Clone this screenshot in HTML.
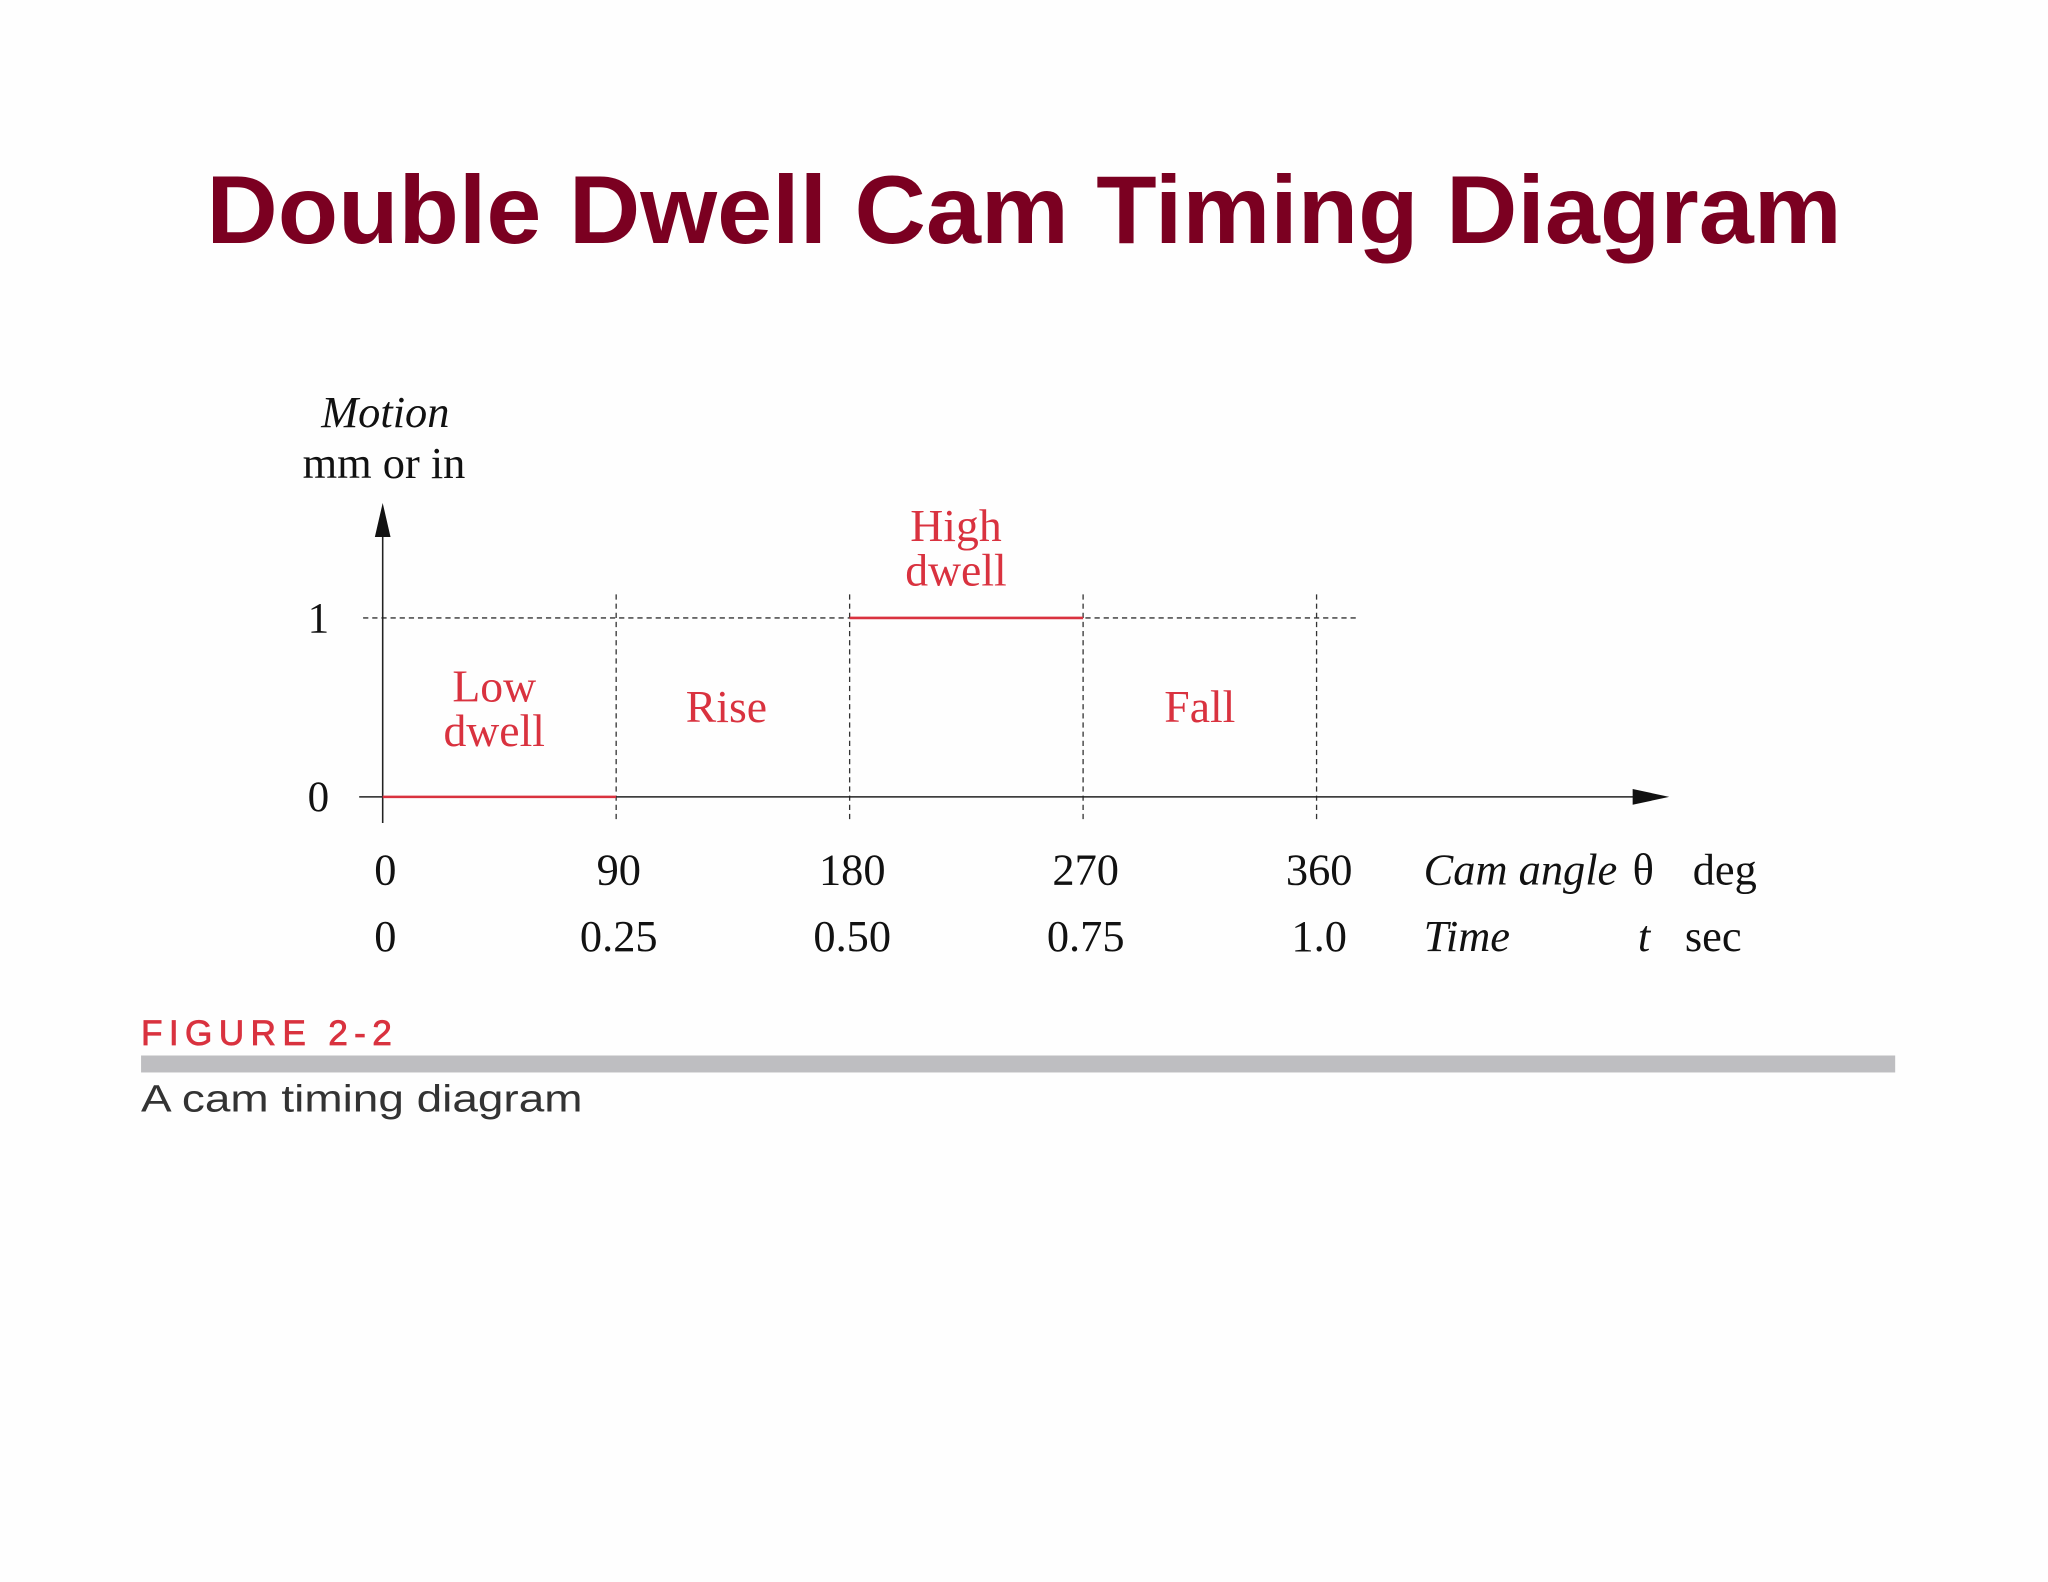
<!DOCTYPE html>
<html><head><meta charset="utf-8"><style>
html,body{margin:0;padding:0;background:#fefefe;}
svg{display:block;}
.serif{font-family:"Liberation Serif",serif;}
</style></head><body>
<svg width="2048" height="1582" viewBox="0 0 1568 1211" xmlns="http://www.w3.org/2000/svg">
<rect width="1568" height="1211" fill="#fefefe"/>
<text x="784" y="186" text-anchor="middle" textLength="1252" lengthAdjust="spacingAndGlyphs" font-family="Liberation Sans, sans-serif" font-weight="bold" font-size="74" fill="#7b0021">Double Dwell Cam Timing Diagram</text>
<g id="chart" class="serif"></g>
<text x="108" y="800" textLength="192" lengthAdjust="spacing" font-family="Liberation Sans, sans-serif" font-size="27" fill="#d9323f" stroke="#d9323f" stroke-width="0.6">FIGURE 2-2</text>
<rect x="108" y="808" width="1343" height="13" fill="#bebec1"/>
<text x="108" y="851" textLength="338" lengthAdjust="spacingAndGlyphs" font-family="Liberation Sans, sans-serif" font-size="29" fill="#333">A cam timing diagram</text>
</svg>
<script>
const angleTicks=[0,90,180,270,360];
const timeTicks=["0","0.25","0.50","0.75","1.0"];
const angleLabels=["0","90","180","270","360"];
const motionTicks=[0,1];
const segStart=[0,180];
const segEnd=[90,270];
const segValue=[0,1];
const regionNames=[["Low","dwell"],["Rise"],["High","dwell"],["Fall"]];
const regionX=[43,132.5,221,315];
const regionY=[0.49,0.5,1.385,0.5];

const NS="http://www.w3.org/2000/svg";
const g=document.getElementById('chart');
const X=a=>293+a*(1008-293)/360;
const Y=v=>610-v*(610-473);
function el(tag,attrs,txt){const e=document.createElementNS(NS,tag);for(const k in attrs)e.setAttribute(k,attrs[k]);if(txt!==undefined)e.textContent=txt;g.appendChild(e);return e;}

let e=el('line',{x1:278,x2:1040,y1:Y(1),y2:Y(1),stroke:'#333','stroke-width':1,'stroke-dasharray':'4 3'});


angleTicks.slice(1).forEach(a=>{
  const l=el('line',{x1:X(a),x2:X(a),y1:455,y2:628,stroke:'#333','stroke-width':1,'stroke-dasharray':'4 3'});
  
  
});
e=el('line',{x1:275,x2:1255,y1:Y(0),y2:Y(0),stroke:'#222','stroke-width':1.2});


e=el('polygon',{points:`1250,604 1278,610 1250,616`,fill:'#111'});


e=el('line',{x1:X(0),x2:X(0),y1:630,y2:405,stroke:'#222','stroke-width':1.2});


e=el('polygon',{points:`287,411 293,385 299,411`,fill:'#111'});


segStart.forEach((s,i)=>{
  const l=el('line',{x1:X(s),x2:X(segEnd[i]),y1:Y(segValue[i]),y2:Y(segValue[i]),stroke:'#d9323f','stroke-width':2});
  
  
});
motionTicks.forEach(v=>{
  const t=el('text',{x:252,y:Y(v)+11,'text-anchor':'end','font-size':33,fill:'#111'},String(v));
  
  
});
angleTicks.forEach((a,i)=>{
  const t=el('text',{x:X(a)+2,y:677,'text-anchor':'middle','font-size':34,fill:'#111'},angleLabels[i]);
  
  
  const t2=el('text',{x:X(a)+2,y:728,'text-anchor':'middle','font-size':34,fill:'#111'},timeTicks[i]);
  
  
});
regionNames.forEach((lines,i)=>{
  const cy=Y(regionY[i]);
  const n=lines.length;
  lines.forEach((s,j)=>{
    const t=el('text',{x:X(regionX[i]),y:cy+11+(j-(n-1)/2)*34,'text-anchor':'middle','font-size':35,fill:'#d9323f'},s);
    
    
  });
});
const at=[
 ['y-axis-title',295,327,'Motion',true,'middle'],
 ['y-axis-units',294,366,'mm or in',false,'middle'],
 ['x-axis-title-angle',1090,677,'Cam angle',true,'start'],
 ['theta-symbol',1250,677,'θ',false,'start'],
 ['angle-units',1296,677,'deg',false,'start'],
 ['x-axis-title-time',1090,728,'Time',true,'start'],
 ['time-symbol',1254,728,'t',true,'start'],
 ['time-units',1290,728,'sec',false,'start']
];
at.forEach(a=>{
  const t=el('text',{x:a[1],y:a[2],'text-anchor':a[5],'font-size':34,fill:'#111','font-style':a[4]?'italic':'normal'},a[3]);
  
  
});
</script>
</body></html>
